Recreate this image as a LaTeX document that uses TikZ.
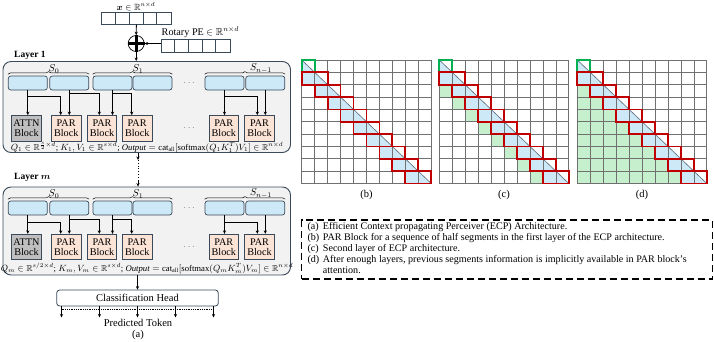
\documentclass[tikz,border=0pt]{standalone}
\usepackage{amsmath,amssymb}
\usepackage{fontspec}
\setmainfont{Liberation Serif}
\usetikzlibrary{arrows.meta,decorations.pathreplacing,calc}
\definecolor{segblue}{HTML}{CDE8F6}
\definecolor{parfill}{HTML}{FBE3D6}
\definecolor{attnfill}{HTML}{BFBFBF}
\definecolor{layerfill}{HTML}{F2F2F2}
\definecolor{edgec}{HTML}{3B4A5A}
\definecolor{gridc}{HTML}{707070}
\definecolor{cellgreen}{HTML}{C6EFCE}
\definecolor{boxred}{HTML}{C00000}
\definecolor{boxgreen}{HTML}{00B050}
\definecolor{diagc}{HTML}{5A6A7A}
\tikzset{
  layerbox/.style={draw=edgec, fill=layerfill, line width=0.9pt, rounded corners=8pt, inner sep=0pt},
  segbox/.style={draw=edgec, fill=segblue, line width=0.7pt, rounded corners=2.5pt, minimum width=39pt, minimum height=14pt, inner sep=0pt},
  parbox/.style={draw=edgec, fill=parfill, line width=0.7pt, minimum width=29.5pt, minimum height=25.6pt, inner sep=0pt, align=center, font=\fontsize{10.2}{9.8}\selectfont},
  attnbox/.style={parbox, fill=attnfill},
  arr/.style={-{Stealth[length=3.5pt,width=3.2pt]}, line width=0.8pt},
  bracestyle/.style={decorate, decoration={brace, amplitude=2.5pt}, line width=0.5pt},
  cellbar/.style={draw=edgec, fill=white, line width=0.8pt, minimum height=11.6pt, inner sep=0pt},
  gridline/.style={draw=gridc, line width=0.7pt},
  lbl/.style={font=\fontsize{10.5}{11}\selectfont, inner sep=0pt},
  legtxt/.style={font=\fontsize{10.1}{11}\selectfont, inner sep=0pt, anchor=base west},
  dotsstyle/.style={text=gray, inner sep=0pt},
}
\def\cw{12.95}
\def\ch{12.35}
\newcommand{\mklayer}[9]{%
  % #1 prefix, #2 top, #3 height, #4 blue cy, #5 block cy, #6 lower hy, #7 upper hy, #8 formula y, #9 formula
  \node[layerbox, minimum width=287.5pt, minimum height=#3] (#1) at (146.75,{#2+#3/2}) {};
  \coordinate (#1h1) at (0,#6);
  \coordinate (#1h2) at (0,#7);
  \node[segbox] (#1s1) at (27.8,#4) {};
  \node[segbox] (#1s2) at (69.3,#4) {};
  \node[segbox] (#1s3) at (112.5,#4) {};
  \node[segbox] (#1s4) at (152.5,#4) {};
  \node[segbox] (#1s5) at (224.5,#4) {};
  \node[segbox] (#1s6) at (265.3,#4) {};
  \node[dotsstyle] (#1d1) at (190,#4) {$\cdots$};
  \draw[bracestyle] ($(#1s1.north west)+(0,-1.5)$) -- ($(#1s2.north east)+(0,-1.5)$);
  \draw[bracestyle] ($(#1s3.north west)+(0,-1.5)$) -- ($(#1s4.north east)+(0,-1.5)$);
  \draw[bracestyle] ($(#1s5.north west)+(0,-1.5)$) -- ($(#1s6.north east)+(0,-1.5)$);
  \node[anchor=south, inner sep=0pt] (#1l1) at ($(54,#4)+(0,-9.5)$) {$S_0$};
  \node[anchor=south, inner sep=0pt] (#1l2) at ($(138,#4)+(0,-9.5)$) {$S_1$};
  \node[anchor=south, inner sep=0pt] (#1l3) at ($(261,#4)+(0,-9.5)$) {$S_{n-1}$};
  \node[attnbox] (#1b0) at (26.5,#5) {ATTN\\Block};
  \node[parbox] (#1b1) at (66.2,#5) {PAR\\Block};
  \node[parbox] (#1b2) at (102,#5) {PAR\\Block};
  \node[parbox] (#1b3) at (137.2,#5) {PAR\\Block};
  \node[parbox] (#1b4) at (223.8,#5) {PAR\\Block};
  \node[parbox] (#1b5) at (259.5,#5) {PAR\\Block};
  \node[dotsstyle] (#1d2) at (190,#5) {$\cdots$};
  \draw[arr] (#1s1.south) -- (#1s1.south |- #1b0.north);
  \draw[arr] (#1s1.south |- #1h1) -| ($(#1b1.north)+(-5.5,0)$);
  \draw[arr] (#1s2.south) -- (#1s2.south |- #1b1.north);
  \draw[arr] (#1s2.south |- #1h2) -| ($(#1b2.north)+(-2.7,0)$);
  \draw[arr] (#1s3.south) -- (#1s3.south |- #1b2.north);
  \draw[arr] (#1s3.south |- #1h2) -| ($(#1b3.north)+(-5.5,0)$);
  \draw[arr] (#1s5.south) -- (#1s5.south |- #1b4.north);
  \draw[arr] (#1s5.south |- #1h1) -| ($(#1b5.north)+(-2.2,0)$);
  \draw[arr] (#1s6.south) -- (#1s6.south |- #1b5.north);
  \node[inner sep=0pt, font=\fontsize{8.7}{9}\selectfont] (#1f) at (147,#8) {#9};
}
\newcommand{\attgrid}[3]{%
  \begin{scope}[shift={(#1,#2)}]
    \ifnum#3>0
      \foreach \i in {2,...,9}{%
        \ifnum#3=1
          \fill[cellgreen] ({(\i-2)*\cw},{\i*\ch}) rectangle ++(\cw,\ch);
        \else
          \pgfmathtruncatemacro\jmax{\i-2}
          \foreach \j in {0,...,\jmax} \fill[cellgreen] ({\j*\cw},{\i*\ch}) rectangle ++(\cw,\ch);
        \fi
      }
    \fi
    \foreach \i in {1,...,9} \fill[segblue] ({(\i-1)*\cw},{\i*\ch}) rectangle ++(\cw,\ch);
    \foreach \i in {0,...,9} \fill[segblue] ({\i*\cw},{\i*\ch}) -- ({\i*\cw},{(\i+1)*\ch}) -- ({(\i+1)*\cw},{(\i+1)*\ch}) -- cycle;
    \foreach \k in {0,...,10}{%
      \draw[gridline] ({\k*\cw},0) -- ({\k*\cw},{10*\ch});
      \draw[gridline] (0,{\k*\ch}) -- ({10*\cw},{\k*\ch});
    }
    \draw[diagc, line width=0.6pt] (0,0) -- ({10*\cw},{10*\ch});
    \draw[boxgreen, line width=1.8pt] (0,0) rectangle (\cw,\ch);
    \foreach \i in {1,...,9} \draw[boxred, line width=1.8pt] ({(\i-1)*\cw},{\i*\ch}) rectangle ++({2*\cw},\ch);
  \end{scope}
}
\begin{document}
\begin{tikzpicture}[x=1pt,y=-1pt]
\useasboundingbox (0,0) rectangle (714,341);
% ---- input ----
\node[font=\fontsize{9}{9}\selectfont, inner sep=0pt] (xlab) at (136,6.5) {$\boldsymbol{x}\in\mathbb{R}^{n\times d}$};
\node[cellbar, minimum width=69.3pt] (xbar) at (136.4,18.5) {};
\foreach \k in {1,...,4} \draw[edgec, line width=0.8pt] ($(xbar.north west)+(\k*13.86,0)$) -- ($(xbar.south west)+(\k*13.86,0)$);
\node[circle, draw, line width=0.7pt, minimum size=16pt, inner sep=0pt] (plus) at (136.2,43.5) {};
\draw[line width=2.8pt] (plus.north) -- (plus.south) (plus.west) -- (plus.east);
\node[cellbar, minimum width=68.7pt, minimum height=13pt] (rbar) at (195.65,45.8) {};
\foreach \k in {1,...,4} \draw[edgec, line width=0.8pt] ($(rbar.north west)+(\k*13.74,0)$) -- ($(rbar.south west)+(\k*13.74,0)$);
\node[anchor=west, font=\fontsize{10.2}{11}\selectfont, inner sep=0pt] (rlab) at (161.5,32) {Rotary PE $\in\mathbb{R}^{n\times d}$};
\draw[arr] (xbar.south) -- (plus.north);
\draw[arr] (rbar.west |- plus.east) -- (plus.east);
% ---- layers ----
\node[anchor=west, font=\bfseries\fontsize{9.5}{10}\selectfont, inner sep=0pt] (lab1) at (14,55.5) {Layer 1};
\mklayer{L}{61.5}{91}{83}{128.3}{96.5}{93}{147.5}{$Q_1\in\mathbb{R}^{\frac{s}{2}\times d}$; $K_1,V_1\in\mathbb{R}^{s\times d}$; $\mathit{Output}=\mathrm{cat}_{\mathrm{all}}[\mathrm{softmax}(Q_1K_1^T)V_1]\in\mathbb{R}^{n\times d}$}
\draw[arr] (plus.south) -- (plus.south |- L.north);
\node[anchor=west, font=\bfseries\fontsize{9.5}{10}\selectfont, inner sep=0pt] (labm) at (14,177) {Layer $\boldsymbol{m}$};
\mklayer{M}{187}{88}{208}{247}{222}{219}{268.5}{$Q_m\in\mathbb{R}^{s/2\times d}$; $K_m,V_m\in\mathbb{R}^{s\times d}$; $\mathit{Output}=\mathrm{cat}_{\mathrm{all}}[\mathrm{softmax}(Q_mK_m^T)V_m]\in\mathbb{R}^{n\times d}$}
\coordinate (m1) at (138,160);
\coordinate (m2) at (138,180);
\draw[arr] (L.south -| m1) -- (m1);
\draw[dotted, line width=0.8pt] (m1) -- (m2);
\draw[arr] (m2) -- (m2 |- M.north);
% ---- classification ----
\node[draw=edgec, fill=white, rounded corners=3pt, line width=0.8pt, minimum width=161.6pt, minimum height=16pt, inner sep=0pt, font=\fontsize{10.5}{11}\selectfont] (cls) at (137.5,298) {Classification Head};
\draw[arr] (M.south -| cls.north) -- (cls.north);
\foreach \dx in {-76,-38,0,38,76} \draw[arr] ($(cls.south)+(\dx,0)$) -- ++(0,11);
\draw[densely dotted, line width=0.8pt] ($(cls.south)+(-76,3)$) -- ($(cls.south)+(76,3)$);
\node[lbl] (pred) at (138,323) {Predicted Token};
\node[lbl] (capa) at (138,335) {(a)};
% ---- grids ----
\attgrid{301.7}{60}{0}
\attgrid{439.3}{60}{1}
\attgrid{577.3}{60}{2}
\node[lbl] (capb) at (366.5,194.5) {(b)};
\node[lbl] (capc) at (504,194.5) {(c)};
\node[lbl] (capd) at (642,194.5) {(d)};
% ---- legend ----
\node[draw=black, dash pattern=on 7pt off 4pt, line width=1.2pt, minimum width=410.6pt, minimum height=59pt, inner sep=0pt] (legend) at (507,249.5) {};
\node[legtxt] (la) at (307.3,229) {(a)};
\node[legtxt] (ta) at (322.7,229) {Efficient Context propagating Perceiver (ECP) Architecture.};
\node[legtxt] (lb) at (307.3,240.2) {(b)};
\node[legtxt] (tb) at (322.7,240.2) {PAR Block for a sequence of half segments in the first layer of the ECP architecture.};
\node[legtxt] (lc) at (307.3,251.4) {(c)};
\node[legtxt] (tc) at (322.7,251.4) {Second layer of ECP architecture.};
\node[legtxt] (ld) at (307.3,262.6) {(d)};
\node[legtxt] (td) at (322.7,262.6) {After enough layers, previous segments information is implicitly available in PAR block's};
\node[legtxt] (te) at (322.7,273.8) {attention.};
\end{tikzpicture}
\end{document}
